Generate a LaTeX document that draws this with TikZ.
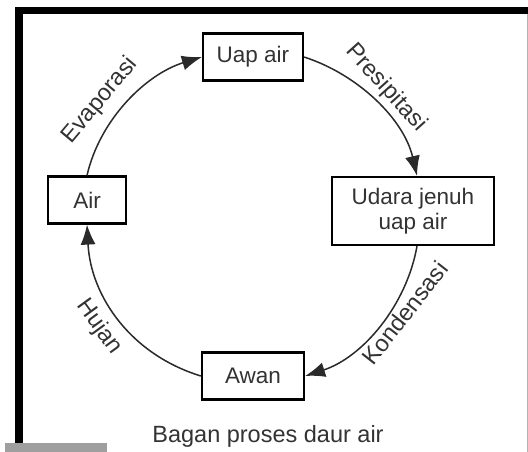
\documentclass[tikz,border=0pt]{standalone}
\usepackage{fontspec}
\setmainfont{Liberation Sans}
\usetikzlibrary{arrows.meta}
\definecolor{ink}{HTML}{2A2A2A}
\definecolor{txt}{HTML}{333333}
\begin{document}
\begin{tikzpicture}[x=1pt,y=1pt,
  box/.style={draw=black, line width=2.2pt, fill=white, font=\fontsize{22.5}{25}\selectfont, text=txt, inner sep=0pt, align=center},
  flow/.style={draw=ink, line width=1.5pt, -{Latex[length=20pt,width=15pt]}},
  lbl/.style={font=\fontsize{23.5}{26}\selectfont, text=txt, inner sep=1pt}]
\useasboundingbox (0,0) rectangle (528,-452);
\fill[white] (0,0) rectangle (528,-452);
\fill[black] (15,-7) rectangle (528,-14);
\fill[black] (15,-7) rectangle (23,-452);
\fill[gray!75] (5,-443) rectangle (107,-452);
\draw[gray!60, line width=1pt] (527,-14) -- (527,-452);
\node[box, minimum width=100pt, minimum height=47pt] (uap) at (253,-57) {Uap air};
\node[box, minimum width=78pt, minimum height=47pt] (air) at (87,-200) {Air};
\node[box, minimum width=162pt, minimum height=68pt] (udara) at (413,-211) {Udara jenuh\\uap air};
\node[box, minimum width=102pt, minimum height=47pt] (awan) at (253,-376) {Awan};
\draw[flow] (air.north) to[out=77,in=197,looseness=0.9] (uap.west);
\draw[flow] (uap.east) to[out=-18,in=103,looseness=0.9] ([xshift=4pt]udara.north);
\draw[flow] ([xshift=4pt]udara.south) to[out=-100,in=18,looseness=0.9] (awan.east);
\draw[flow] (awan.west) to[out=163,in=-87,looseness=0.98] (air.south);
\node[lbl, rotate=50] (evap) at (100,-101) {Evaporasi};
\node[lbl, rotate=-48] (pres) at (386,-88) {Presipitasi};
\node[lbl, rotate=52] (kond) at (405,-313) {Kondensasi};
\node[lbl, rotate=-54] (hujan) at (99,-327) {Hujan};
\node[lbl] (cap) at (268,-436) {Bagan proses daur air};
\end{tikzpicture}
\end{document}
